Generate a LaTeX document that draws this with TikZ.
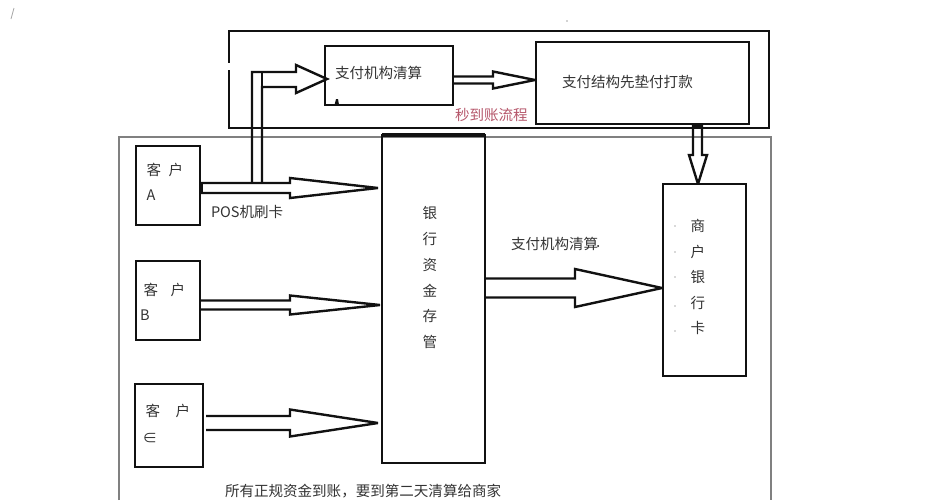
\documentclass[tikz,border=0pt]{standalone}
\usepackage{fontspec}
\setmainfont{Noto Sans CJK SC}
\usetikzlibrary{calc}
\definecolor{inkc}{HTML}{111111}
\definecolor{txtc}{HTML}{333333}
\definecolor{grayc}{HTML}{808080}
\definecolor{redc}{HTML}{B5566A}
\tikzset{
  x=0.75pt,y=-0.75pt,
  boxnode/.style={draw=inkc,line width=1.8pt,fill=none,inner sep=0pt,outer sep=0pt},
  label text/.style={inner sep=0pt,outer sep=0pt,text=txtc,font=\fontsize{10.9}{13}\selectfont},
  fat/.style={draw=inkc,line width=1.8pt,line join=miter,miter limit=3},
}
% start, tip, shaft half, head length, head half
\newcommand\hblock[5]{%
  \coordinate (s) at #1; \coordinate (t) at #2;
  \draw[fat] ($(s)+(0,-#3)$) -- ($(t)+(-#4,-#3)$) -- ($(t)+(-#4,-#5)$) -- (t)
    -- ($(t)+(-#4,#5)$) -- ($(t)+(-#4,#3)$) -- ($(s)+(0,#3)$);}
\begin{document}
\begin{tikzpicture}
\useasboundingbox (0,0) rectangle (934,500);
% frames
\node[boxnode,minimum width=540*0.75pt,minimum height=97*0.75pt] (fast) at (499,79.5) {};
\fill[white] (227,63) rectangle (231,70);
\draw[grayc,line width=1.5pt] (119,500) -- (119,137) -- (771,137) -- (771,500);
% boxes
\node[boxnode,minimum width=128*0.75pt,minimum height=59*0.75pt] (clear) at (389,75.5) {};
\node[boxnode,minimum width=213*0.75pt,minimum height=82*0.75pt] (pay) at (642.5,83) {};
\node[boxnode,minimum width=103*0.75pt,minimum height=328*0.75pt] (bank) at (433.5,299) {};
\draw[inkc,line width=2.4pt] (bank.north west) -- (bank.north east);
\node[boxnode,minimum width=83*0.75pt,minimum height=192*0.75pt] (card) at (704.5,280) {};
\node[boxnode,minimum width=64*0.75pt,minimum height=79*0.75pt] (ca) at (168,185.5) {};
\node[boxnode,minimum width=64*0.75pt,minimum height=79*0.75pt] (cb) at (168,300.5) {};
\node[boxnode,minimum width=68*0.75pt,minimum height=83*0.75pt] (cc) at (169,425.5) {};
% block arrows
\hblock{($(ca.east)+(0,2.5)$)}{($(bank.west)+(-4,-111)$)}{5}{88}{10}
\fill[inkc] (200,183) rectangle (203,193);
\hblock{($(cb.east)+(0,4.5)$)}{($(bank.west)+(-2,6)$)}{4.5}{90}{9.5}
\hblock{($(cc.east)+(3,-2.5)$)}{($(bank.west)+(-4,124)$)}{7}{88}{13.5}
\hblock{($(bank.east)+(1,-11)$)}{($(card.west)+(-1,8)$)}{9.5}{87}{19}
\hblock{($(clear.east)+(0,4.5)$)}{($(pay.west)+(-1,-3)$)}{3.5}{42}{8.5}
\fill[inkc] (452,76.5) rectangle (454,83.5);
% POS branch: up from the customer A arrow, right into the clearing box
\coordinate (pl) at (252,183);
\coordinate (pr) at (262,183);
\coordinate (ptip) at ($(clear.west)+(2,3.5)$);
\draw[fat] (pl) -- (pl |- 0,72) -- (296,72) -- (296,65) -- (ptip) -- (296,93) -- (296,87) -- (262,87) -- (pr);
\draw[fat] (262,72) -- (262,87);
% pay down to merchant card
\coordinate (dt) at ($(card.north)+(-6.5,0)$);
\draw[fat] (693,124) -- (693,155) -- (689,155) -- (dt) -- (707,155) -- (702,155) -- (702,124);
\fill[inkc] (692,123) rectangle (703,127);
% texts
\node[label text,anchor=west] (t1) at (335,73) {支付机构清算};
\node[label text,anchor=west] (t2) at (562,82) {支付结构先垫付打款};
\node[label text,anchor=west,text=redc] (t3) at (455,115) {秒到账流程};
\node[label text,anchor=west] (t4) at (211,212) {POS机刷卡};
\node[label text,anchor=west] (t5) at (511,244) {支付机构清算};
\node[label text,anchor=west] (t6) at (225,491) {所有正规资金到账，要到第二天清算给商家};
\foreach \t/\y in {银/213,行/239,资/265,金/291,存/316,管/342}
  \node[label text] at (430,\y) {\t};
\foreach \t/\y in {商/226,户/252,银/277,行/303,卡/328}
  \node[label text] at (698,\y) {\t};
\node[label text] at (154,170) {客};
\node[label text] at (176,170) {户};
\node[label text] at (151,195) {A};
\node[label text] at (151,290) {客};
\node[label text] at (178,290) {户};
\node[label text] at (145,315) {B};
\node[label text] at (153,411) {客};
\node[label text] at (183,411) {户};
\node[label text] at (150,438) {∈};
% stray specks of the scan
\foreach \y in {226,252,277,306,331}
  \fill[gray!60] (675,\y) circle (0.8);
\fill[inkc] (334.5,105) -- (336,99) -- (338,99) -- (339,105) -- cycle;
\fill[inkc] (598,246) circle (1);
\fill[gray!70] (567,21) circle (0.8);
\draw[gray!70,line width=0.6pt] (14,8) -- (11,19);
\end{tikzpicture}
\end{document}
